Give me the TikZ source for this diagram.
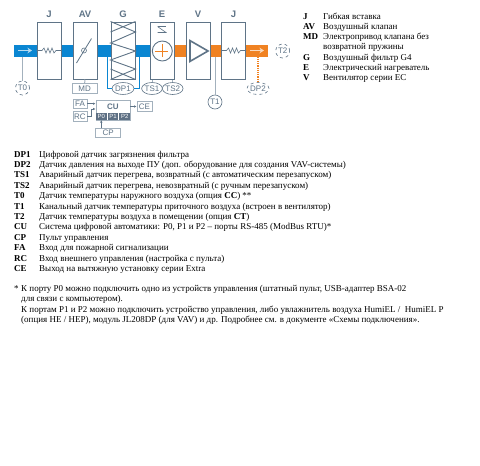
\documentclass[tikz,border=0pt]{standalone}
\usepackage{fontspec}
\setmainfont{Liberation Serif}
\newfontfamily\labelfont{Liberation Sans}
\usetikzlibrary{positioning,shapes.geometric,arrows.meta}
\definecolor{ductblue}{HTML}{0A86D2}
\definecolor{ductorange}{HTML}{F08222}
\definecolor{unitline}{HTML}{5F7487}
\definecolor{signline}{HTML}{A3B1BD}
\definecolor{porthead}{HTML}{5E7084}
\tikzset{
  duct/.style     = {inner sep=0pt, minimum height=12pt},
  unit/.style     = {shape=rectangle, draw=unitline, line width=1pt, fill=white,
                     minimum width=24pt, minimum height=57pt, inner sep=0pt},
  head/.style     = {font=\labelfont\bfseries\fontsize{9.5}{9.5}\selectfont, text=unitline, inner sep=0pt},
  tag/.style      = {shape=rectangle, draw=signline, line width=0.9pt, fill=white, text=unitline,
                     font=\labelfont\fontsize{8}{8}\selectfont, inner sep=0pt},
  probe/.style    = {shape=ellipse, draw=unitline, line width=0.6pt, fill=white, text=unitline,
                     font=\labelfont\fontsize{8}{8}\selectfont, inner sep=0pt},
  porttag/.style  = {shape=rectangle, fill=porthead, text=white, minimum width=10.5pt, minimum height=7pt,
                     font=\labelfont\fontsize{6}{6}\selectfont, inner sep=0pt},
  sign/.style     = {draw=signline, line width=1pt},
  link/.style     = {draw=unitline, line width=0.6pt, -{Latex[length=2.5pt,width=2.5pt]}},
  keyname/.style  = {anchor=base west, inner sep=0pt, font=\bfseries\fontsize{9}{9}\selectfont},
  keytext/.style  = {anchor=base west, inner sep=0pt, font=\fontsize{9}{9}\selectfont}
}
\begin{document}
\begin{tikzpicture}[x=1pt, y=-1pt]
  \useasboundingbox (0,0) rectangle (480,466);
  % duct
  \node (blueduct) [duct, fill=ductblue, minimum width=136pt] at (82,50.5) {};
  \node (orangeduct) [duct, fill=ductorange, minimum width=94pt] at (221,50.5) {};
  % units
  \node (j1) [unit] at (49,50.5) {};
  \node (av) [unit] at (85,50.5) {};
  \node (g) [unit] at (123,50.5) {};
  \node (e) [unit] at (162,50.5) {};
  \node (v) [unit] at (198,50.5) {};
  \node (j2) [unit] at (233.5,50.5) {};
  \node (jhead1) [head, above=4pt of j1] {J};
  \node (avhead) [head, above=4pt of av] {AV};
  \node (ghead) [head, above=4pt of g] {G};
  \node (ehead) [head, above=4pt of e] {E};
  \node (vhead) [head, above=4pt of v] {V};
  \node (jhead2) [head, above=4pt of j2] {J};
  % flow arrows
  \draw [white!70!ductblue, line width=1.5pt, -{Stealth[length=4.5pt,width=5.5pt]}] (18,50.5) -- (32,50.5);
  \draw [white!70!ductorange, line width=1.5pt, -{Stealth[length=4.5pt,width=5.5pt]}] (250,50.5) -- (264,50.5);
  % unit symbols
  \draw [unitline, line width=0.6pt] (j1.west) -- (42,50.5) -- (44,48) -- (46,53) -- (48,48) -- (50,53) -- (52,48) -- (54,53) -- (56,50.5) -- (j1.east);
  \draw [unitline, line width=0.6pt] (j2.west) -- (226.5,50.5) -- (228.5,48) -- (230.5,53) -- (232.5,48) -- (234.5,53) -- (236.5,48) -- (238.5,53) -- (240.5,50.5) -- (j2.east);
  \draw [unitline, line width=0.8pt] (76.5,63) -- (91.5,38.5);
  \draw [unitline, line width=0.6pt] (84,50.5) circle (2.5pt);
  \draw [unitline, line width=0.9pt] (g.north west) -- (g.east |- 0,32) -- (g.west |- 0,43) -- (g.east |- 0,51) -- (g.west |- 0,60) -- (g.east |- 0,69) -- (g.south west);
  \draw [unitline, line width=0.9pt] (g.north east) -- (g.west |- 0,32);
  \draw [unitline, line width=0.9pt] (g.south east) -- (g.west |- 0,69);
  \node (heater) [shape=circle, draw=unitline, line width=0.9pt, minimum size=20pt, inner sep=0pt] at (162.3,51) {};
  \draw [ductorange, line width=0.8pt] (heater.west) ++(3.5,0) -- ++(13,0);
  \draw [ductorange, line width=0.8pt] (heater.north) ++(0,3.5) -- ++(0,13);
  \draw [unitline, line width=0.6pt] (157.5,26.5) -- (166,26.5);
  \draw [unitline, line width=0.6pt] (157.5,26.5) -- (166,32.5) -- (157.5,32.5);
  \node (fanmark) [shape=regular polygon, regular polygon sides=3, shape border rotate=-90, draw=unitline, line width=1.6pt, minimum size=24pt, inner sep=0pt] at (196,51) {};
  % probes
  \node (t0) [probe, dashed, minimum size=14pt] at (22.5,88) {T0};
  \node (dp1) [probe, minimum width=20pt, minimum height=12pt] at (123,88.5) {DP1};
  \node (ts1) [probe, minimum width=19pt, minimum height=12pt] at (152,88.5) {TS1};
  \node (ts2) [probe, minimum width=19pt, minimum height=12pt] at (172.7,88.5) {TS2};
  \node (t1) [probe, minimum size=14pt] at (215,102) {T1};
  \node (t2) [probe, dashed, minimum size=14pt] at (282.7,51) {T2};
  \node (dp2) [probe, dashed, minimum width=20pt, minimum height=12pt] at (258,88.5) {DP2};
  \coordinate (t0top) at (22.5,56.5);
  \coordinate (t1top) at (215,56.5);
  \coordinate (dp2top) at (258,56.5);
  \coordinate (dp1left) at (107,56.5);
  \coordinate (dp1right) at (139,56.5);
  \draw [sign] (t0top) -- (t0);
  \draw [sign] (t1top) -- (t1);
  \draw [ductorange, line width=1.2pt, densely dotted] (dp2top) -- (dp2);
  \draw [ductblue, line width=1pt] (dp1left) |- (dp1);
  \draw [ductblue, line width=1pt] (dp1right) |- (dp1);
  \draw [sign] (e.south -| ts1) -- (ts1);
  \draw [sign] (e.south -| ts2) -- (ts2);
  % control unit
  \node (md) [tag, minimum width=24.5pt, minimum height=9.5pt] at (84.7,88.5) {MD};
  \draw [sign] (av) -- (md);
  \node (cu) [shape=rectangle, draw=signline, line width=0.9pt, minimum width=34pt, minimum height=19.5pt, inner sep=0pt] at (113,110.2) {};
  \node (cuhead) [head, font=\labelfont\bfseries\fontsize{8}{8}\selectfont] at (113,106.5) {CU};
  \node (p0) [porttag] at (101.3,116.3) {P0};
  \node (p1) [porttag] at (113,116.3) {P1};
  \node (p2) [porttag] at (124.7,116.3) {P2};
  \node (fa) [tag, minimum width=14pt, minimum height=9.5pt] at (80,103.7) {FA};
  \node (rc) [tag, minimum width=14pt, minimum height=9.5pt] at (80,116.5) {RC};
  \node (ce) [tag, minimum width=15pt, minimum height=9.5pt] at (144.5,106.5) {CE};
  \node (cp) [tag, minimum width=25pt, minimum height=9.5pt] at (108.2,132.7) {CP};
  \draw [link] (fa.east) -- (fa.east -| cu.west);
  \draw [link] (rc.east) -- (91,116.5) -- (91,109) -- (95.5,109);
  \draw [link] (cu.east |- ce) -- (ce.west);
  \draw [link] (cp.north -| p0) -- (p0.south);
  % legend, right
  \node (kj) [keyname] at (303,19) {J};
  \node (tj) [keytext] at (323,19) {Гибкая вставка};
  \node (kav) [keyname] at (303,29.3) {AV};
  \node (tav) [keytext] at (323,29.3) {Воздушный клапан};
  \node (kmd) [keyname] at (303,39.6) {MD};
  \node (tmd) [keytext] at (323,39.6) {Электропривод клапана без};
  \node (tmdb) [keytext] at (323,49.9) {возвратной пружины};
  \node (kg) [keyname] at (303,60.2) {G};
  \node (tg) [keytext] at (323,60.2) {Воздушный фильтр G4};
  \node (ke) [keyname] at (303,70.5) {E};
  \node (te) [keytext] at (323,70.5) {Электрический нагреватель};
  \node (kv) [keyname] at (303,80.8) {V};
  \node (tv) [keytext] at (323,80.8) {Вентилятор серии EC};
  % legend, below
  \node (kdp1) [keyname] at (14,157) {DP1};
  \node (tdp1) [keytext] at (39,157) {Цифровой датчик загрязнения фильтра};
  \node (kdp2) [keyname] at (14,167.4) {DP2};
  \node (tdp2) [keytext] at (39,167.4) {Датчик давления на выходе ПУ (доп. оборудование для создания VAV-системы)};
  \node (kts1) [keyname] at (14,177.8) {TS1};
  \node (tts1) [keytext] at (39,177.8) {Аварийный датчик перегрева, возвратный (с автоматическим перезапуском)};
  \node (kts2) [keyname] at (14,188.2) {TS2};
  \node (tts2) [keytext] at (39,188.2) {Аварийный датчик перегрева, невозвратный (с ручным перезапуском)};
  \node (kt0) [keyname] at (14,198.6) {T0};
  \node (tt0) [keytext] at (39,198.6) {Датчик температуры наружного воздуха (опция \textbf{CC}) **};
  \node (kt1) [keyname] at (14,209) {T1};
  \node (tt1) [keytext] at (39,209) {Канальный датчик температуры приточного воздуха (встроен в вентилятор)};
  \node (kt2) [keyname] at (14,219.4) {T2};
  \node (tt2) [keytext] at (39,219.4) {Датчик температуры воздуха в помещении (опция \textbf{CT})};
  \node (kcu) [keyname] at (14,229.8) {CU};
  \node (tcu) [keytext] at (39,229.8) {Система цифровой автоматики: P0, P1 и P2 – порты RS-485 (ModBus RTU)*};
  \node (kcp) [keyname] at (14,240.2) {CP};
  \node (tcp) [keytext] at (39,240.2) {Пульт управления};
  \node (kfa) [keyname] at (14,250.6) {FA};
  \node (tfa) [keytext] at (39,250.6) {Вход для пожарной сигнализации};
  \node (krc) [keyname] at (14,261) {RC};
  \node (trc) [keytext] at (39,261) {Вход внешнего управления (настройка с пульта)};
  \node (kce) [keyname] at (14,271.4) {CE};
  \node (tce) [keytext] at (39,271.4) {Выход на вытяжную установку серии Extra};
  % footnote
  \node (star) [keytext] at (14,291.5) {*};
  \node (fna) [keytext] at (21,291.5) {К порту P0 можно подключить одно из устройств управления (штатный пульт, USB-адаптер BSA-02};
  \node (fnb) [keytext] at (21,301.9) {для связи с компьютером).};
  \node (fnc) [keytext] at (21,312.3) {К портам P1 и P2 можно подключить устройство управления, либо увлажнитель воздуха HumiEL /\ \ HumiEL P};
  \node (fnd) [keytext] at (21,322.7) {(опция HE / HEP), модуль JL208DP (для VAV) и др. Подробнее см. в документе «Схемы подключения».};
\end{tikzpicture}
\end{document}
